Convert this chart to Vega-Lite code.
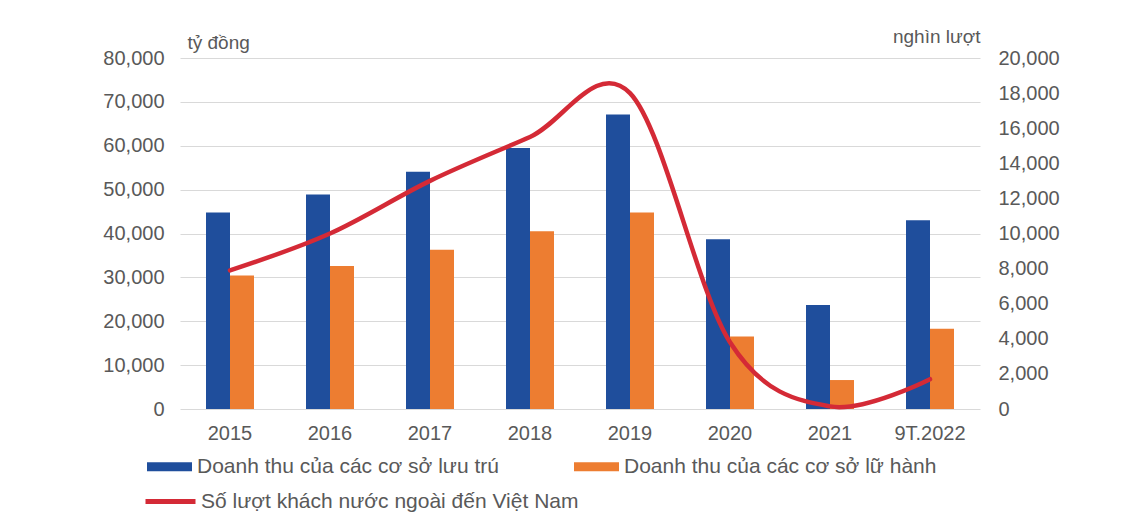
{
  "$schema": "https://vega.github.io/schema/vega-lite/v6.json",
  "width": 800,
  "height": 351,
  "autosize": {"type": "none"},
  "padding": {"left": 180, "top": 58, "right": 147, "bottom": 117},
  "background": "white",
  "config": {
    "font": "Liberation Sans",
    "view": {"stroke": null},
    "axis": {"labelColor": "#595959", "titleColor": "#595959", "labelFont": "Liberation Sans", "titleFont": "Liberation Sans"},
    "legend": {"labelColor": "#595959", "labelFont": "Liberation Sans", "labelFontSize": 21, "labelLimit": 600}
  },
  "datasets": {
    "doanhthu": [
      {"nam": "2015", "loai": "Doanh thu của các cơ sở lưu trú", "ty_dong": 44800},
      {"nam": "2015", "loai": "Doanh thu của các cơ sở lữ hành", "ty_dong": 30400},
      {"nam": "2016", "loai": "Doanh thu của các cơ sở lưu trú", "ty_dong": 48900},
      {"nam": "2016", "loai": "Doanh thu của các cơ sở lữ hành", "ty_dong": 32600},
      {"nam": "2017", "loai": "Doanh thu của các cơ sở lưu trú", "ty_dong": 54100},
      {"nam": "2017", "loai": "Doanh thu của các cơ sở lữ hành", "ty_dong": 36300},
      {"nam": "2018", "loai": "Doanh thu của các cơ sở lưu trú", "ty_dong": 59500},
      {"nam": "2018", "loai": "Doanh thu của các cơ sở lữ hành", "ty_dong": 40500},
      {"nam": "2019", "loai": "Doanh thu của các cơ sở lưu trú", "ty_dong": 67100},
      {"nam": "2019", "loai": "Doanh thu của các cơ sở lữ hành", "ty_dong": 44800},
      {"nam": "2020", "loai": "Doanh thu của các cơ sở lưu trú", "ty_dong": 38700},
      {"nam": "2020", "loai": "Doanh thu của các cơ sở lữ hành", "ty_dong": 16500},
      {"nam": "2021", "loai": "Doanh thu của các cơ sở lưu trú", "ty_dong": 23700},
      {"nam": "2021", "loai": "Doanh thu của các cơ sở lữ hành", "ty_dong": 6600},
      {"nam": "9T.2022", "loai": "Doanh thu của các cơ sở lưu trú", "ty_dong": 43000},
      {"nam": "9T.2022", "loai": "Doanh thu của các cơ sở lữ hành", "ty_dong": 18300}
    ],
    "khach": [
      {"nam": "2015", "nghin_luot": 7900},
      {"nam": "2016", "nghin_luot": 10000},
      {"nam": "2017", "nghin_luot": 13000},
      {"nam": "2018", "nghin_luot": 15500},
      {"nam": "2019", "nghin_luot": 18000},
      {"nam": "2020", "nghin_luot": 3800},
      {"nam": "2021", "nghin_luot": 150},
      {"nam": "9T.2022", "nghin_luot": 1700}
    ]
  },
  "encoding": {
    "x": {
      "field": "nam", "type": "nominal", "sort": null,
      "scale": {"paddingInner": 0.52, "paddingOuter": 0.26},
      "axis": {"title": null, "labelAngle": 0, "labelFontSize": 20, "labelPadding": 14, "domain": false, "ticks": false}
    }
  },
  "layer": [
    {
      "data": {"name": "doanhthu"},
      "mark": {"type": "bar"},
      "encoding": {
        "xOffset": {"field": "loai", "type": "nominal", "sort": null, "scale": {"paddingInner": 0, "paddingOuter": 0}},
        "y": {
          "field": "ty_dong", "type": "quantitative",
          "scale": {"domain": [0, 80000], "nice": false},
          "axis": {
            "title": "tỷ đồng", "titleAngle": 0, "titleAlign": "left", "titleBaseline": "alphabetic",
            "titleX": 7, "titleY": -10, "titleFontSize": 19, "titleFontWeight": "normal",
            "values": [0, 10000, 20000, 30000, 40000, 50000, 60000, 70000, 80000],
            "format": ",.0f", "labelFontSize": 20, "labelPadding": 16,
            "domain": false, "ticks": false, "grid": true, "gridColor": "#d9d9d9", "gridWidth": 1.2
          }
        },
        "color": {
          "field": "loai", "type": "nominal", "sort": null,
          "scale": {"domain": ["Doanh thu của các cơ sở lưu trú", "Doanh thu của các cơ sở lữ hành"], "range": ["#1f4e9c", "#ed7d31"]},
          "legend": {
            "title": null, "orient": "none", "legendX": -33, "legendY": 386, "direction": "horizontal",
            "symbolType": "M-1,-0.2H1V0.2H-1Z", "symbolSize": 2025, "symbolStrokeWidth": 0,
            "labelOffset": 5, "columnPadding": 75
          }
        }
      }
    },
    {
      "data": {"name": "khach"},
      "mark": {"type": "line", "interpolate": "cardinal", "tension": 0, "strokeWidth": 4.5, "strokeCap": "round"},
      "encoding": {
        "y": {
          "field": "nghin_luot", "type": "quantitative",
          "scale": {"domain": [0, 20000], "nice": false},
          "axis": {
            "orient": "right", "title": "nghìn lượt", "titleAngle": 0, "titleAlign": "right", "titleBaseline": "alphabetic",
            "titleX": 0, "titleY": -16, "titleFontSize": 19, "titleFontWeight": "normal",
            "values": [0, 2000, 4000, 6000, 8000, 10000, 12000, 14000, 16000, 18000, 20000],
            "format": ",.0f", "labelFontSize": 20, "labelPadding": 18,
            "domain": false, "ticks": false, "grid": false
          }
        },
        "stroke": {
          "datum": "Số lượt khách nước ngoài đến Việt Nam",
          "scale": {"range": ["#d42a36"]},
          "legend": {
            "title": null, "orient": "none", "legendX": -37, "legendY": 416,
            "symbolType": "stroke", "symbolSize": 2500, "symbolStrokeWidth": 5, "labelOffset": 3
          }
        }
      }
    }
  ],
  "resolve": {"scale": {"y": "independent"}}
}
